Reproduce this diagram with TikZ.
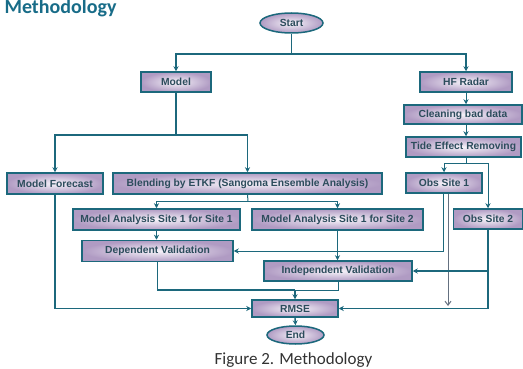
\documentclass[tikz,border=0pt]{standalone}
\usepackage{fontspec}
\setmainfont{Liberation Sans}
\newfontfamily\capfont{Carlito}
\usetikzlibrary{arrows.meta,shapes.geometric}
\definecolor{lineteal}{RGB}{28,104,124}
\definecolor{txt}{RGB}{44,76,92}
\definecolor{boxout}{RGB}{176,155,195}
\definecolor{boxin}{RGB}{246,243,249}
\definecolor{titleteal}{RGB}{24,108,136}
\definecolor{grayline}{RGB}{100,112,128}
\definecolor{captxt}{RGB}{50,50,50}
\begin{document}
\begin{tikzpicture}[x=1pt,y=-1pt,
  fc/.style={draw=lineteal, line width=1.5pt, inner color=boxin, outer color=boxout, text=txt, font=\fontsize{10.3}{12}\selectfont\bfseries, inner sep=0pt},
  box/.style={fc, rectangle, minimum height=20pt},
  oval/.style={fc, ellipse},
  conn/.style={draw=lineteal, line width=1.4pt},
  thin/.style={draw=lineteal, line width=1pt},
  tip/.style={-{Stealth[length=5pt,width=5pt]}},
]
\useasboundingbox (0,0) rectangle (523,369);

\node[anchor=base west, text=titleteal, font=\capfont\bfseries\fontsize{20}{24}\selectfont] (title) at (1,14) {Methodology};

\node[oval, minimum width=63pt, minimum height=20pt] (start) at (291.5,23) {Start};
\node[box, minimum width=70pt] (model) at (176,82) {Model};
\node[box, minimum width=92pt] (hf) at (466,82) {HF Radar};
\node[box, minimum width=118pt, minimum height=19pt] (clean) at (463,114.5) {Cleaning bad data};
\node[box, minimum width=115pt] (tide) at (463.5,147) {Tide Effect Removing};
\node[box, minimum width=76pt] (obs1) at (444,183) {Obs Site 1};
\node[box, minimum width=69pt] (obs2) at (488,219) {Obs Site 2};
\node[box, minimum width=96pt, minimum height=21pt] (mf) at (55,183.5) {Model Forecast};
\node[box, minimum width=269pt, minimum height=21pt] (blend) at (247.5,183.5) {Blending by ETKF (Sangoma Ensemble Analysis)};
\node[box, minimum width=167pt, minimum height=21pt] (ma1) at (156.5,219.5) {Model Analysis Site 1 for Site 1};
\node[box, minimum width=171pt, minimum height=21pt] (ma2) at (337.5,219.5) {Model Analysis Site 1 for Site 2};
\node[box, minimum width=151pt, minimum height=21pt] (dep) at (157.5,251) {Dependent Validation};
\node[box, minimum width=148pt] (ind) at (338,271) {Independent Validation};
\node[box, minimum width=86pt, minimum height=17pt] (rmse) at (295,308.5) {RMSE};
\node[oval, minimum width=57pt, minimum height=18pt] (end) at (295.5,335) {End};

\coordinate (j1) at (291.5,54);
\draw[conn] (start.south) -- (j1);
\draw[conn,tip] (j1) -| (model.north);
\draw[conn,tip] (j1) -| (hf.north);
\draw[thin,tip] (hf.south) -- (hf.south |- clean.north);
\draw[thin,tip] (hf.south |- clean.south) -- (hf.south |- tide.north);
\coordinate (j2) at (466,164);
\draw[thin] (hf.south |- tide.south) -- (j2);
\draw[thin,tip] (j2) -| (obs1.north);
\draw[thin,tip] (j2) -| (obs2.north);

\coordinate (j3) at (176,135);
\draw[conn] (model.south) -- (j3);
\draw[conn,tip] (j3) -| (mf.north);
\draw[conn,tip] (j3) -| (blend.north);
\coordinate (j4) at (248,201);
\draw[thin] (blend.south) -- (j4);
\draw[thin,tip] (j4) -| (ma1.north);
\draw[thin,tip] (j4) -| (ma2.north);
\draw[thin,tip] (ma1.south) -- (ma1.south |- dep.north);
\draw[thin,tip] (ma2.south) -- (ma2.south |- ind.north);

\coordinate (j5) at (295,290);
\draw[conn] (dep.south) |- (j5);
\draw[thin] (ind.south) |- (j5);
\draw[conn,tip] (j5) -- (rmse.north);
\draw[conn,tip] (mf.south) |- (rmse.west);
\draw[conn,tip] (rmse.south) -- (end.north);

\draw[thin,tip] ([xshift=-1pt]obs1.south) |- (dep.east);
\coordinate (g1) at (448,306);
\draw[draw=grayline, line width=1pt, -{Straight Barb[length=4pt,width=6pt]}] (obs1.south -| g1) -- (g1);
\draw[conn,tip] (obs2.south) |- (rmse.east);
\draw[draw=lineteal, line width=2pt, tip] (obs2.south |- ind.east) -- (ind.east);

\node[font=\capfont\fontsize{17}{20}\selectfont, text=captxt, anchor=base] (cap) at (293.5,364) {Figure 2. Methodology};
\end{tikzpicture}
\end{document}
